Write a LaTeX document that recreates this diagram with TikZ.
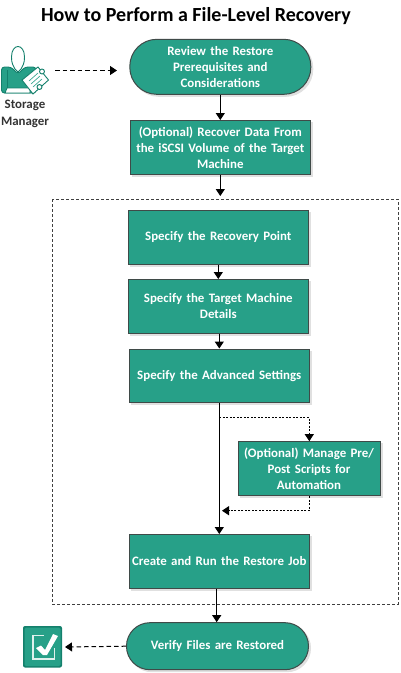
\documentclass[tikz,border=0pt]{standalone}
\usepackage{fontspec}
\setmainfont{Carlito}
\usetikzlibrary{arrows.meta,calc}
\definecolor{teal1}{HTML}{27A088}
\definecolor{dark1}{HTML}{3F4A48}
\definecolor{iconc}{HTML}{14806C}
\tikzset{
 x=1pt,y=-1pt,
 base/.style={fill=teal1,draw=dark1,line width=1pt,text=white,font=\fontsize{12.9pt}{16pt}\selectfont\bfseries,align=center,inner sep=0pt,
   preaction={draw=black!12,fill=black!12,transform canvas={xshift=2pt,yshift=-2pt}}},
 stepbox/.style={base,rectangle,minimum width=180pt,minimum height=53.5pt,text width=176pt},
 pill/.style={base,rectangle,minimum width=181pt,text width=165pt},
 flow/.style={line width=1pt,-{Triangle[length=7pt,width=9pt]}},
 dflow/.style={flow,dash pattern=on 4.5pt off 3pt},
 sflow/.style={flow,dash pattern=on 2pt off 1.5pt},
}
\begin{document}
\begin{tikzpicture}
\useasboundingbox (0,0) rectangle (400,673);
\node[font=\fontsize{20pt}{24pt}\selectfont\bfseries,anchor=center] (title) at (196,16) {How to Perform a File-Level Recovery};
\draw[line width=0.7pt,dash pattern=on 3pt off 2pt,draw=black!75] (52.7,199) rectangle (398,604.3);
\node[pill,minimum height=55pt,rounded corners=27pt] (a) at (220.3,66.8) {Review the Restore\\Prerequisites and\\Considerations};
\node[stepbox] (b) at (220.3,147.3) {(Optional) Recover Data From\\the iSCSI Volume of the Target\\Machine};
\node[stepbox] (c) at (218.3,237.3) {Specify the Recovery Point};
\node[stepbox] (d) at (218.3,306.3) {Specify the Target Machine\\Details};
\node[stepbox] (e) at (219.3,375.8) {Specify the Advanced Settings};
\node[base,rectangle,minimum width=142pt,minimum height=54pt,text width=140pt] (f) at (309,468.7) {(Optional) Manage Pre/\\Post Scripts for\\Automation};
\node[stepbox] (g) at (219.3,561.3) {Create and Run the Restore Job};
\node[pill,minimum width=182pt,minimum height=47pt,rounded corners=23.4pt] (h) at (217.5,646.2) {Verify Files are Restored};
\coordinate (top) at (220.3,196);
\coordinate (bot) at (216.7,604);
\coordinate (br) at (219.3,417.7);
\coordinate (brr) at (309.3,417.7);
\coordinate (ret) at (309.3,510.7);
\coordinate (retl) at (222,510.7);
\coordinate (mgr) at (55,70.5);
\coordinate (mgrend) at (117,70.5);
\coordinate (chk) at (65,647);
\draw[flow] (a) -- (b);
\draw[flow] (b.south -| top) -- (top);
\draw[flow] (c) -- (d);
\draw[flow] (d.south -| e.north) -- (e.north);
\draw[flow] (e.south -| br) -- (g.north -| br);
\draw[flow] (g.south -| bot) -- (h.north -| bot);
\draw[sflow] (br) -- (brr) -- (f.north -| brr);
\draw[sflow] (f.south -| ret) -- (ret) -- (retl);
\draw[dflow] (mgr) -- (mgrend);
\draw[dflow] (h.west) -- (chk);
% manager icon
\begin{scope}[line width=0.9pt,draw=iconc]
\fill[teal1,draw=iconc,rounded corners=3pt] (1.5,93) -- (1.5,67) -- (11,67) -- (18,74) -- (25,67) -- (36,67) -- (36,93) -- cycle;
\draw[draw=iconc,fill=white] (7,88) -- (30,88) -- (30,93) -- (5,93) -- (7,88);
\draw (7,70) -- (7,88);
\fill[white,draw=iconc] (11.5,57) .. controls (11.5,43) and (24.5,43) .. (24.5,57) .. controls (24.5,63) and (23,66) .. (21,69) -- (18,72) -- (15,69) .. controls (13,66) and (11.5,63) .. (11.5,57) -- cycle;
\fill[white,draw=iconc] (22,80) -- (38,67) -- (48.5,80) -- (33,94) -- cycle;
\draw[teal1,line width=0.6pt] (29,81) -- (38,73) (31,84) -- (40,76) (33,87) -- (42,79);
\fill[white,draw=iconc] (42,71.5) circle (2.5pt);
\fill[white,draw=iconc] (39.5,87) circle (2.5pt);
\end{scope}
\node[font=\fontsize{12.9pt}{16.6pt}\selectfont\bfseries,text=black!80,align=center] (lab) at (25,114) {Storage\\Manager};
% check icon
\begin{scope}
\fill[iconc,rounded corners=2pt] (23,626) rectangle (62,667.5);
\fill[teal1,rounded corners=1.5pt] (24.5,627.5) rectangle (60.5,666);
\draw[white!85!teal1,line width=1.3pt] (33,635.5) rectangle (54.5,659);
\fill[teal1] (44,630) rectangle (60,648);
\fill[white] (36,648) -- (41,645.5) -- (45,650) -- (53,634) -- (58,636) -- (47,655) -- (43,655) -- cycle;
\end{scope}
\end{tikzpicture}
\end{document}
